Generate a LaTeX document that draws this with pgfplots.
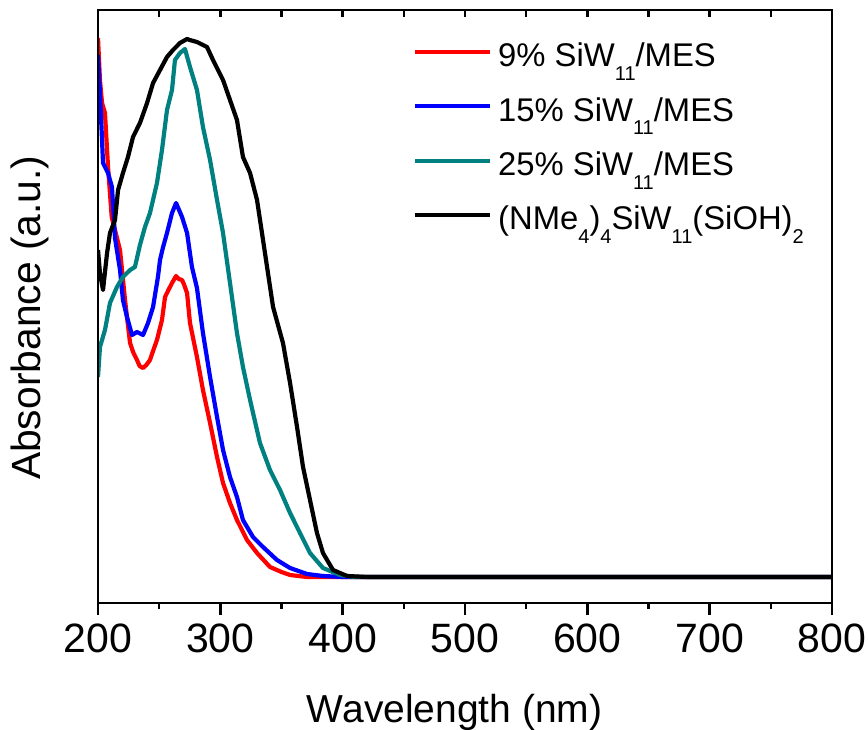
\documentclass[border=0pt]{standalone}
\usepackage{fontspec}
\setmainfont{Liberation Sans}
\usepackage{pgfplots}
\pgfplotsset{compat=1.18}
\definecolor{cteal}{RGB}{0,128,128}
\newcommand{\sub}[1]{\raisebox{-0.42em}{\fontsize{10}{10}\selectfont #1}}
\begin{document}
\begin{tikzpicture}
\begin{axis}[
 at={(0,0)}, anchor=south west,
 scale only axis, width=367pt, height=296.5pt,
 xmin=200, xmax=800, ymin=0, ymax=593,
 xtick={200,300,...,800}, minor x tick num=1,
 xtick pos=left, ytick=\empty,
 tick align=outside, major tick length=6pt, minor tick length=3pt,
 axis line style={line width=1.2pt},
 every tick/.style={line width=1.2pt, black},
 tick label style={font=\fontsize{20.5}{24}\selectfont},
 xticklabel style={yshift=-1pt},
 /pgf/number format/assume math mode=true,
 xlabel={Wavelength (nm)}, ylabel={Absorbance (a.u.)},
 xlabel style={font=\fontsize{19.5}{23}\selectfont, at={(axis description cs:0.486,0)}, anchor=base, yshift=-59.5pt},
 ylabel style={font=\fontsize{20.4}{24}\selectfont, at={(axis description cs:-0.0926,0.481)}, anchor=center},
 legend style={draw=none, fill=none, at={(rel axis cs:0.421,0.959)}, anchor=north west,
   font=\fontsize{16.4}{19}\selectfont, row sep=5.2pt, column sep=1pt,
   nodes={inner sep=2pt, text height=12pt, text depth=6pt}},
 legend cell align=left,
 legend image code/.code={\draw[#1,line width=1.9pt] (0pt,4.4pt) -- (37.5pt,4.4pt);},
 every axis plot/.append style={line width=2.1pt, line join=round},
]
\addplot[red] coordinates {
(200,565)(201.6,523)(203.3,500)(205.7,490)(208.2,436)(211.2,386)(218,353)(222.1,303)(223.7,286)(226.2,260)
(229,250)(231.9,243)(234,237)(236.8,235)(239.5,238)(242.5,243)(245,252)(248.2,263)(252.3,283)(254.8,306)
(258,314)(260.5,320)(263.8,327)(266,324)(268.7,323)(270.5,318)(272.8,310)(275.2,280)(280.9,246)(285.8,213)
(291.6,180)(297.3,146)(302.2,120)(307.9,100)(313.6,83)(321.8,63)(330,50)(340.6,36)(350,31)(357,28)
(370.9,26)(400,26)(500,26)(600,26)(700,26)(800,26)};
\addlegendentry{9\% SiW\sub{11}/MES}
\addplot[blue] coordinates {
(200,548)(201.6,510)(203.3,463)(204.1,440)(208.2,430)(211.4,416)(213.9,365)(218,333)(220.4,303)(223.7,286)
(227.8,268)(231.9,271)(236.8,268)(240.9,280)(245,296)(249,326)(250.7,343)(253,355)(256.4,370)(260.5,390)
(263.8,400)(268.7,386)(272.8,370)(276.8,336)(280.9,315)(285.8,270)(291.6,226)(297.3,186)(302.2,153)(307.9,126)
(313.6,106)(318.5,83)(326.7,66)(334.9,56)(346.3,43)(357,35)(370.9,29)(384,27)(400,26)(500,26)(600,26)(700,26)(800,26)};
\addlegendentry{15\% SiW\sub{11}/MES}
\addplot[cteal] coordinates {
(200,226)(201.6,256)(205.7,273)(209.8,300)(215.5,316)(220.4,326)(226.2,333)(230.2,336)(234.3,358)(238.4,376)
(242.5,390)(248.2,420)(252.3,453)(256.4,493)(260.5,513)(262.9,543)(267,550)(271.1,554)(275.2,536)(280.9,513)
(285.8,476)(291.6,443)(297.3,403)(302.2,370)(307.9,320)(313.6,270)(318.5,236)(324.3,203)(332.4,160)(340.6,133)
(348.8,113)(357,90)(365.1,70)(373.3,50)(383.9,35)(397.8,28)(410,26)(500,26)(600,26)(700,26)(800,26)};
\addlegendentry{25\% SiW\sub{11}/MES}
\addplot[black] coordinates {
(200,353)(201.6,330)(204.1,313)(207.4,350)(209.8,370)(213.9,383)(216.4,413)(220.4,430)(224.5,446)(228.6,466)
(234.3,480)(240.1,500)(245,520)(250.7,533)(256.4,546)(261.3,553)(267,560)(272.8,564)(275,563)(280.9,561)
(289.1,556)(294,543)(302.2,523)(307.9,503)(313.6,483)(318.5,446)(324.3,430)(330,403)(334.9,363)(338.2,336)
(343.1,296)(351.2,260)(357,220)(362.7,176)(367.6,136)(373.3,103)(379,70)(383.9,50)(392.1,33)(403.6,27)
(420,26)(500,26)(600,26)(700,26)(800,26)};
\addlegendentry{(NMe\sub{4})\sub{4}SiW\sub{11}(SiOH)\sub{2}}
\end{axis}
\begin{axis}[
 at={(0,0)}, anchor=south west,
 scale only axis, width=367pt, height=296.5pt,
 xmin=200, xmax=800, ymin=0, ymax=593,
 xtick={200,300,...,800}, minor x tick num=1,
 xtick pos=right, ytick=\empty, xticklabels={},
 tick align=inside, major tick length=3.5pt, minor tick length=3.5pt,
 axis line style={line width=1.2pt},
 every tick/.style={line width=1.2pt, black},
]
\end{axis}
\pgfresetboundingbox
\path (-49pt,-63pt) rectangle (385pt,301.5pt);
\end{tikzpicture}
\end{document}
